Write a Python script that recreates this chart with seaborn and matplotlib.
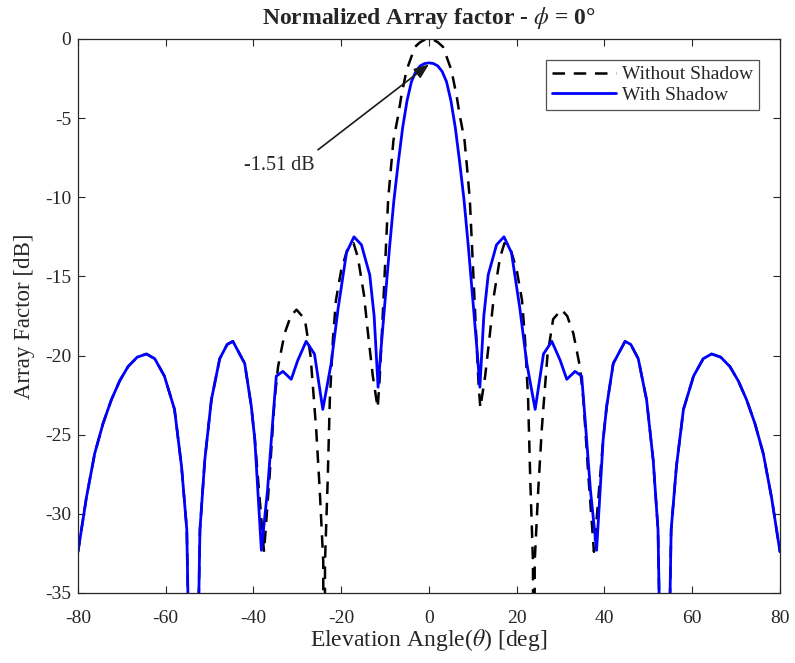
import matplotlib
matplotlib.use("Agg")
import matplotlib.pyplot as plt
import seaborn as sns
import pandas as pd

# ---------------- data ----------------
theta_with = [-80, -78.1, -76.2, -74.3, -72.4, -70.5, -68.6, -66.5, -64.4, -62.5,
              -60.3, -58.0, -56.4, -55.2, -53.7, -52.2, -51.1, -49.6, -47.7, -46.0,
              -44.7, -42.0, -40.5, -39.7, -38.2, -36.8, -35.6, -34.8, -33.3, -31.4,
              -29.9, -28.0, -26.1, -24.2, -22.3, -20.7, -18.8, -17.1, -15.4, -13.5,
              -12.5, -11.6, -11.0, -10.0, -9.0, -8.0, -7.0, -6.0, -5.0, -4.0,
              -3.0, -2.0, -1.0, 0.0, 1.0, 2.0, 3.0, 4.0, 5.0, 6.0,
              7.0, 8.0, 9.0, 10.0, 11.0, 11.6, 12.5, 13.5, 15.4, 17.1,
              18.8, 20.7, 22.3, 24.2, 26.1, 28.0, 29.9, 31.4, 33.3, 34.8,
              35.6, 36.8, 38.2, 39.7, 40.5, 42.0, 44.7, 46.0, 47.7, 49.6,
              51.1, 52.2, 53.7, 55.2, 56.4, 58.0, 60.3, 62.5, 64.4, 66.5,
              68.6, 70.5, 72.4, 74.3, 76.2, 78.1, 80]
af_with = [-32.4, -29.0, -26.2, -24.3, -22.8, -21.6, -20.7, -20.1, -19.9, -20.2,
           -21.3, -23.4, -27.0, -31.0, -55.0, -31.0, -26.6, -22.8, -20.2, -19.3,
           -19.1, -20.5, -23.2, -25.3, -32.3, -28.5, -24.1, -21.3, -21.0, -21.5,
           -20.3, -19.1, -19.9, -23.4, -20.5, -17.0, -13.5, -12.5, -13.0, -14.9,
           -17.5, -22.0, -19.8, -16.5, -13.2, -10.2, -7.8, -5.6, -3.9, -2.7,
           -2.05, -1.7, -1.55, -1.51, -1.55, -1.7, -2.05, -2.7, -3.9, -5.6,
           -7.8, -10.2, -13.2, -16.5, -19.8, -22.0, -17.5, -14.9, -13.0, -12.5,
           -13.5, -17.0, -20.5, -23.4, -19.9, -19.1, -20.3, -21.5, -21.0, -21.3,
           -24.1, -28.5, -32.3, -25.3, -23.2, -20.5, -19.1, -19.3, -20.2, -22.8,
           -26.6, -31.0, -55.0, -31.0, -27.0, -23.4, -21.3, -20.2, -19.9, -20.1,
           -20.7, -21.6, -22.8, -24.3, -26.2, -29.0, -32.4]

theta_without = [-80, -78.1, -76.2, -74.3, -72.4, -70.5, -68.6, -66.5, -64.4, -62.5,
                 -60.3, -58.0, -56.4, -55.2, -53.7, -52.2, -51.1, -49.6, -47.7, -46.0,
                 -44.7, -42.0, -40.5, -39.7, -37.6, -36.3, -35.2, -34.4, -32.9, -31.5,
                 -30.2, -28.3, -27.0, -26.1, -25.7, -24.9, -24.1, -23.9, -23.7, -23.1,
                 -22.6, -21.9, -21.2, -20.0, -18.5, -17.2, -16.2, -14.8, -13.9, -12.8,
                 -11.7, -11.3, -10.8, -10.3, -9.8, -9.3, -8.6, -8.1, -7.0, -6.3,
                 -5.1, -4.4, -3.2, -2.0, -1.0, 0.0, 1.0, 2.0, 3.2, 4.4,
                 5.1, 6.3, 7.0, 8.1, 8.6, 9.3, 9.8, 10.3, 10.8, 11.3,
                 11.7, 12.8, 13.9, 14.8, 16.2, 17.2, 18.5, 20.0, 21.2, 21.9,
                 22.6, 23.1, 23.7, 23.9, 24.1, 24.9, 25.7, 26.1, 27.0, 28.3,
                 30.2, 31.5, 32.9, 34.4, 35.2, 36.3, 37.6, 39.7, 40.5, 42.0,
                 44.7, 46.0, 47.7, 49.6, 51.1, 52.2, 53.7, 55.2, 56.4, 58.0,
                 60.3, 62.5, 64.4, 66.5, 68.6, 70.5, 72.4, 74.3, 76.2, 78.1, 80]
af_without = [-32.4, -29.0, -26.2, -24.3, -22.8, -21.6, -20.7, -20.1, -19.9, -20.2,
              -21.3, -23.4, -27.0, -31.0, -55.0, -31.0, -26.6, -22.8, -20.2, -19.3,
              -19.1, -20.5, -23.2, -25.3, -32.4, -27.5, -22.8, -20.7, -18.6, -17.5,
              -17.1, -17.7, -20.0, -23.2, -24.7, -28.5, -33.0, -70.0, -33.0, -28.0,
              -22.8, -19.0, -16.5, -14.6, -13.2, -12.9, -13.8, -16.2, -18.6, -21.3,
              -23.3, -21.8, -19.0, -16.0, -13.0, -10.1, -7.9, -6.4, -4.8, -3.6,
              -1.96, -1.43, -0.5, -0.2, -0.05, 0.0, -0.05, -0.2, -0.5, -1.43,
              -1.96, -3.6, -4.8, -6.4, -7.9, -10.1, -13.0, -16.0, -19.0, -21.8,
              -23.3, -21.3, -18.6, -16.2, -13.8, -12.9, -13.2, -14.6, -16.5, -19.0,
              -22.8, -28.0, -33.0, -70.0, -33.0, -28.5, -24.7, -23.2, -20.0, -17.7,
              -17.1, -17.5, -18.6, -20.7, -22.8, -27.5, -32.4, -25.3, -23.2, -20.5,
              -19.1, -19.3, -20.2, -22.8, -26.6, -31.0, -55.0, -31.0, -27.0, -23.4,
              -21.3, -20.2, -19.9, -20.1, -20.7, -21.6, -22.8, -24.3, -26.2, -29.0, -32.4]

series_labels = ["Without Shadow", "With Shadow"]
x_ticks = [-80, -60, -40, -20, 0, 20, 40, 60, 80]
y_ticks = [-35, -30, -25, -20, -15, -10, -5, 0]
peak_label = "-1.51 dB"
peak_value = -1.51

# ---------------- style ----------------
sns.set_style("ticks")
plt.rcParams["font.family"] = ["Liberation Serif", "DejaVu Serif"]
plt.rcParams["mathtext.fontset"] = "stix"
plt.rcParams["axes.unicode_minus"] = False

fig = plt.figure(figsize=(7.95, 6.63), dpi=100)
ax = fig.add_axes([0.0981, 0.1056, 0.8830, 0.8356])

df_wo = pd.DataFrame({"theta": theta_without, "af": af_without})
df_w = pd.DataFrame({"theta": theta_with, "af": af_with})

sns.lineplot(data=df_wo, x="theta", y="af", ax=ax, color="black",
             linewidth=1.8, label=series_labels[0], estimator=None, sort=False)
ax.lines[-1].set_linestyle((0, (5, 3.5)))
sns.lineplot(data=df_w, x="theta", y="af", ax=ax, color="#0000ff",
             linewidth=2.0, label=series_labels[1], estimator=None, sort=False)

ax.set_xlim(-80, 80)
ax.set_ylim(-35, 0)
ax.set_xticks(x_ticks)
ax.set_yticks(y_ticks)
ax.tick_params(direction="in", top=True, right=True, length=5, width=0.8,
               labelsize=14, colors="#262626")
ax.tick_params(axis="x", pad=12)
ax.tick_params(axis="y", pad=5)
for s in ax.spines.values():
    s.set_visible(True)
    s.set_linewidth(0.9)
    s.set_color("#262626")

ax.set_xlabel(r"Elevation Angle($\theta$) [deg]", fontsize=17, color="#262626", labelpad=0)
ax.set_ylabel("Array Factor [dB]", fontsize=16.5, color="#262626", labelpad=7)
ax.set_title(r"Normalized Array factor - $\phi$ = 0°", fontsize=17,
             fontweight="bold", pad=11)

ax.annotate("", xy=(0.0, -1.6), xytext=(-25.3, -7.0),
            arrowprops=dict(arrowstyle="-|>,head_length=0.9,head_width=0.35",
                            color="#1a1a1a", lw=1.2, shrinkA=0, shrinkB=0))
ax.text(-34.2, -8.0, peak_label, fontsize=14.5, ha="center", va="center", color="#262626")

leg = ax.legend(loc="upper right", bbox_to_anchor=(0.970, 0.962), borderaxespad=0,
                fontsize=14, frameon=True, fancybox=False, edgecolor="#262626",
                handlelength=3.3, handletextpad=0.3, borderpad=0.3, labelspacing=0.15)
leg.get_frame().set_linewidth(0.9)
leg.get_lines()[0].set_linestyle((0, (5, 3.5)))

fig.savefig("out.png", dpi=100, facecolor="white")
